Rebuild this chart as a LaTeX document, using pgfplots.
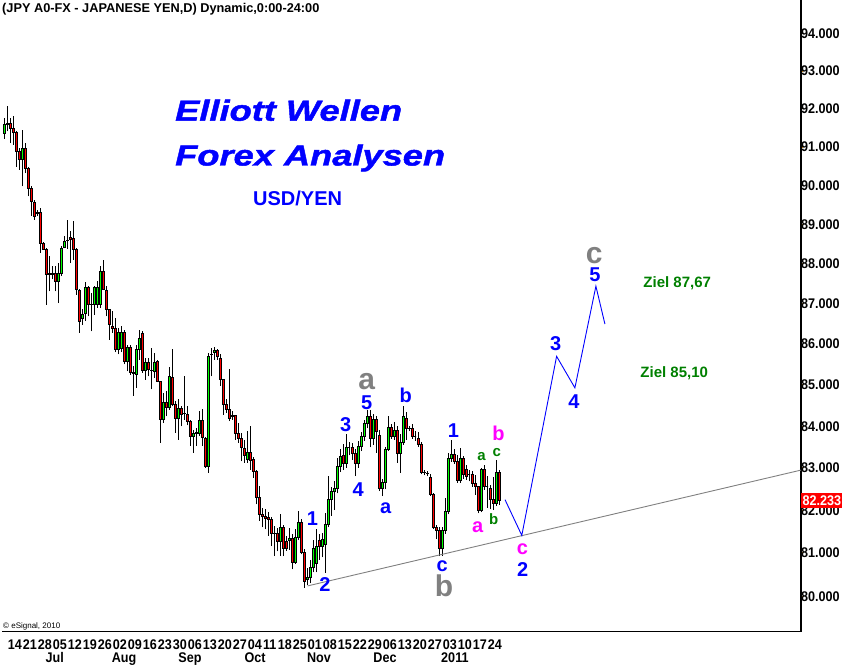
\documentclass[border=0pt]{standalone}
\usepackage{fontspec}
\setmainfont{Liberation Sans}
\newfontfamily\titlefont[FakeStretch=1.25,FakeBold=1.5]{Liberation Sans}
\newfontfamily\tickfont[FakeStretch=0.9]{Liberation Sans}
\usepackage{pgfplots}
\usepackage{pgfplotstable}
\pgfplotsset{compat=1.18}

\definecolor{cgreen}{RGB}{0,255,0}
\definecolor{cred}{RGB}{255,0,0}
\definecolor{wblue}{RGB}{0,0,255}
\definecolor{wgray}{RGB}{128,128,128}
\definecolor{wmag}{RGB}{255,0,255}
\definecolor{wgreen}{RGB}{0,128,0}
\definecolor{tickorange}{RGB}{230,140,0}

% daily OHLC, USD/JPY, index 0 = 9 Jun 2010 (one step = one trading day)
\pgfplotstableread{
i o h l c
0 91.36 91.76 91.21 91.60
1 91.60 92.08 91.41 91.62
2 91.61 91.76 91.10 91.50
3 91.48 91.80 91.06 91.39
4 91.38 91.41 90.49 90.88
5 90.88 90.97 90.41 90.67
6 90.67 91.44 89.98 90.97
7 90.97 91.10 90.32 90.45
8 90.45 90.49 89.72 89.94
9 89.94 89.98 89.21 89.60
10 89.58 89.64 89.12 89.21
11 89.31 89.38 89.21 89.28
12 89.32 89.42 88.28 88.53
13 88.51 88.55 88.36 88.38
14 88.36 88.40 86.98 87.75
15 87.76 88.21 87.31 87.75
16 87.76 87.96 87.61 87.75
17 87.76 87.96 87.31 87.56
18 87.56 88.02 87.02 87.76
19 87.76 88.44 87.69 88.40
20 88.42 88.70 88.40 88.56
21 88.60 89.12 88.38 88.61
22 88.67 88.83 88.02 88.63
23 88.65 89.10 88.11 88.38
24 88.38 88.40 87.23 87.37
25 87.35 87.37 86.28 86.57
26 86.65 86.86 86.48 86.75
27 86.77 87.54 86.57 87.40
28 87.40 87.44 86.69 86.98
29 86.99 87.27 86.31 87.00
30 87.00 87.44 86.73 87.40
31 86.98 87.56 86.90 87.42
32 86.98 87.94 86.90 87.81
33 87.81 88.09 87.35 87.37
34 87.35 87.44 86.69 86.87
35 86.86 86.88 86.11 86.48
36 86.44 86.82 86.28 86.40
37 86.40 86.65 85.80 85.87
38 85.87 86.40 85.75 86.30
39 85.90 86.45 85.80 86.30
40 86.30 86.35 85.50 85.58
41 85.58 85.99 85.33 85.91
42 85.91 85.99 85.25 85.31
43 85.30 85.46 84.73 85.28
44 85.27 85.99 84.93 85.87
45 85.88 86.36 85.62 86.14
46 86.26 86.32 85.30 85.35
47 85.35 85.66 85.13 85.56
48 85.56 85.66 85.21 85.38
49 85.36 85.91 84.89 85.35
50 85.34 85.78 85.17 85.54
51 85.59 85.62 85.07 85.09
52 85.08 85.10 83.60 84.16
53 84.16 84.81 84.08 84.57
54 84.57 84.85 84.24 84.46
55 84.46 85.44 84.40 85.20
56 85.18 85.88 84.48 84.52
57 84.52 84.61 83.84 84.18
58 84.18 84.65 83.68 84.44
59 84.44 84.48 84.00 84.30
60 84.32 85.21 84.16 84.31
61 84.28 84.48 84.02 84.12
62 84.11 84.16 83.52 83.76
63 83.76 83.90 83.36 83.84
64 83.85 83.96 83.52 83.84
65 83.84 84.36 83.76 84.15
66 84.15 84.42 83.52 83.74
67 83.72 83.74 83.00 83.04
68 83.04 85.78 82.89 85.71
69 85.74 85.91 85.21 85.75
70 85.81 85.92 85.62 85.84
71 85.84 85.88 85.62 85.69
72 85.66 85.76 84.97 85.15
73 85.13 85.15 84.28 84.52
74 84.52 84.65 84.32 84.40
75 84.40 85.38 84.12 84.20
76 84.25 84.36 84.16 84.26
77 84.26 84.28 83.68 83.84
78 83.82 84.08 83.60 83.72
79 83.70 83.84 83.16 83.50
80 83.48 83.66 83.12 83.31
81 83.20 83.88 83.12 83.38
82 83.38 84.00 82.96 83.18
83 83.20 83.25 82.77 82.92
84 82.92 82.95 82.14 82.31
85 82.30 82.57 81.75 81.90
86 81.90 82.05 81.60 81.86
87 81.86 82.02 81.55 81.82
88 81.84 81.95 81.40 81.80
89 81.80 81.85 81.16 81.47
90 81.47 81.62 80.93 81.45
91 81.45 81.58 81.04 81.28
92 81.28 81.90 80.93 81.59
93 81.59 81.66 80.93 81.12
94 81.28 81.39 81.05 81.12
95 81.30 81.58 81.08 81.34
96 81.34 81.45 80.62 80.79
97 80.79 81.55 80.74 81.36
98 81.36 81.98 81.30 81.71
99 81.71 81.80 80.97 81.02
100 81.02 81.10 80.20 80.34
101 80.40 80.66 80.25 80.45
102 80.45 80.85 80.30 80.66
103 80.66 81.30 80.55 81.12
104 80.75 81.55 80.55 81.15
105 81.30 81.45 80.85 81.15
106 81.16 81.47 80.90 81.32
107 81.20 81.94 80.54 81.67
108 81.67 82.80 81.60 82.26
109 82.26 82.55 81.87 82.45
110 82.45 82.70 82.00 82.53
111 82.53 83.24 82.40 83.04
112 83.04 83.44 82.90 83.28
113 83.30 83.56 82.95 83.12
114 83.12 83.80 83.00 83.50
115 83.50 83.62 83.30 83.50
116 83.50 83.60 83.20 83.35
117 83.35 83.45 82.81 83.12
118 83.12 83.65 83.00 83.52
119 83.52 83.85 83.40 83.76
120 83.76 84.16 83.65 84.07
121 84.07 84.40 83.95 84.23
122 84.23 84.40 83.49 83.70
123 83.70 84.30 83.55 84.16
124 84.16 84.25 83.36 83.88
125 83.79 83.90 82.45 82.53
126 82.53 82.75 82.33 82.66
127 82.66 83.50 82.50 83.45
128 83.45 84.24 83.40 83.98
129 83.98 84.05 83.70 83.76
130 83.76 84.10 83.68 83.90
131 83.90 84.00 83.12 83.36
132 83.36 83.80 82.89 83.62
133 83.62 84.48 83.55 84.23
134 84.20 84.35 83.68 83.96
135 83.96 84.00 83.88 83.94
136 83.96 84.05 83.70 83.76
137 83.76 83.88 83.65 83.76
138 83.72 83.85 83.50 83.56
139 83.56 83.62 82.85 82.90
140 82.90 82.95 82.82 82.89
141 82.88 82.92 82.80 82.87
142 82.79 82.85 82.33 82.37
143 82.37 82.40 81.55 81.59
144 81.59 81.65 81.32 81.54
145 81.53 81.60 80.93 81.12
146 81.12 81.60 80.93 81.53
147 81.53 82.29 81.45 81.98
148 81.98 83.36 81.90 83.22
149 83.22 83.68 83.15 83.32
150 83.32 83.44 83.10 83.15
151 83.15 83.30 82.65 82.70
152 82.70 83.48 82.65 83.22
153 83.22 83.28 82.75 82.84
154 82.96 83.08 82.72 82.81
155 82.84 82.96 82.68 82.84
156 82.84 82.92 82.55 82.64
157 82.64 82.84 82.36 82.56
158 82.56 82.58 81.93 81.99
159 81.99 83.00 81.95 82.98
160 82.98 83.08 82.48 82.56
161 82.56 82.80 82.06 82.56
162 82.52 82.60 82.02 82.25
163 82.25 82.78 82.00 82.17
164 82.17 83.20 82.10 82.89
165 82.89 82.95 82.13 82.233
}\ohlc

\tikzset{
  wb/.style={text=wblue, font=\bfseries\fontsize{20}{20}\selectfont, inner sep=0pt},
  wg/.style={text=wgray, font=\bfseries\fontsize{30}{30}\selectfont, inner sep=0pt},
  wm/.style={text=wmag, font=\bfseries\fontsize{20}{20}\selectfont, inner sep=0pt},
  wsg/.style={text=wgreen, font=\bfseries\fontsize{15}{15}\selectfont, inner sep=0pt},
}

\begin{document}
\begin{tikzpicture}[x=1pt,y=1pt]
\begin{axis}[
  at={(0,0)}, anchor=south west,
  scale only axis, width=799pt, height=632pt,
  xmin=-0.67, xmax=265.67,
  ymode=log, ymin=79.20, ymax=94.92,
  clip=false,
  axis x line*=bottom, axis y line*=right,
  axis line style={black, line width=1.2pt},
  ytick={80,81,82,83,84,85,86,87,88,89,90,91,92,93,94},
  yticklabels={80.000,81.000,82.000,83.000,84.000,85.000,86.000,87.000,88.000,89.000,90.000,91.000,92.000,93.000,94.000},
  yticklabel style={font=\tickfont\bfseries\fontsize{14}{14}\selectfont, anchor=west, inner sep=0pt, xshift=-2pt},
  ytick style={tickorange, line width=1.2pt},
  major tick length=2pt,
  tick align=outside,
  xtick={3.6,8.6,13.6,18.6,23.6,28.6,33.6,38.6,43.6,48.6,53.6,58.6,63.6,68.6,73.6,78.6,83.6,88.6,93.6,98.6,103.6,108.6,113.6,118.6,123.6,128.6,133.6,138.6,143.6,148.6,153.6,158.6,163.6},
  xticklabels={14,21,28,05,12,19,26,02,09,16,23,30,06,13,20,27,04,11,18,25,01,08,15,22,29,06,13,20,27,03,10,17,24},
  xtick style={draw=none},
  xticklabel style={font=\tickfont\bfseries\fontsize{14}{14}\selectfont, anchor=base, inner sep=0pt, yshift=-15.3pt},
  extra x ticks={16.9,40,62,83.7,105,127,150.3},
  extra x tick labels={Jul,Aug,Sep,Oct,Nov,Dec,2011},
  extra x tick style={tick style={draw=none}, xticklabel style={yshift=-13.2pt}},
]
% candles
\pgfplotsinvokeforeach{0,...,165}{
  \pgfplotstablegetelem{#1}{o}\of{\ohlc}\edef\vO{\pgfplotsretval}
  \pgfplotstablegetelem{#1}{h}\of{\ohlc}\edef\vH{\pgfplotsretval}
  \pgfplotstablegetelem{#1}{l}\of{\ohlc}\edef\vL{\pgfplotsretval}
  \pgfplotstablegetelem{#1}{c}\of{\ohlc}\edef\vC{\pgfplotsretval}
  \pgfplotstablegetelem{#1}{i}\of{\ohlc}\edef\vI{\pgfplotsretval}
  \ifdim\vC pt<\vO pt \def\vCol{cred}\else\def\vCol{cgreen}\fi
  \pgfmathsetmacro\xa{\vI-0.4}\pgfmathsetmacro\xb{\vI+0.4}
  \edef\doplot{%
    \noexpand\addplot[black, line width=0.9pt, forget plot] coordinates {(\vI,\vL) (\vI,\vH)};
    \noexpand\addplot[draw=black, line width=0.6pt, fill=\vCol, forget plot] coordinates {(\xa,\vO) (\xb,\vO) (\xb,\vC) (\xa,\vC)} -- cycle;
  }\doplot
}
% trend line
\addplot[wgray, line width=0.9pt, forget plot] coordinates {(101.2,80.24) (265.67,82.95)};
% projected path
\addplot[wblue, line width=0.9pt, forget plot] coordinates {(167,82.25) (172.6,81.41) (184.2,85.70) (190.3,84.93) (197.3,87.44) (200.3,86.50)};

% wave labels
\node[wb] at (axis cs:102.8,81.80) {1};
\node[wb] at (axis cs:107,80.28) {2};
\node[wb] at (axis cs:113.9,84.04) {3};
\node[wb] at (axis cs:118.1,82.49) {4};
\node[wb] at (axis cs:120.9,84.58) {5};
\node[wg] at (axis cs:120.9,85.09) {a};
\node[wb] at (axis cs:127.2,82.06) {a};
\node[wb] at (axis cs:133.9,84.75) {b};
\node[wb] at (axis cs:146.1,80.70) {c};
\node[wg] at (axis cs:146.7,80.25) {b};
\node[wb] at (axis cs:149.8,83.90) {1};
\node[wm] at (axis cs:157.9,81.60) {a};
\node[wsg] at (axis cs:159.2,83.28) {a};
\node[wsg] at (axis cs:163.2,81.78) {b};
\node[wsg] at (axis cs:164.3,83.38) {c};
\node[wm] at (axis cs:164.8,83.82) {b};
\node[wm] at (axis cs:172.8,81.08) {c};
\node[wb] at (axis cs:172.9,80.62) {2};
\node[wb] at (axis cs:183.9,86.01) {3};
\node[wb] at (axis cs:190,84.60) {4};
\node[wg] at (axis cs:196.7,88.21) {c};
\node[wb] at (axis cs:197,87.73) {5};
\node[text=wgreen, font=\bfseries\fontsize{15}{15}\selectfont] at (axis cs:224.4,87.52) {Ziel 87,67};
\node[text=wgreen, font=\bfseries\fontsize{15}{15}\selectfont] at (axis cs:223.4,85.29) {Ziel 85,10};

\coordinate (lastp) at (axis cs:265.67,82.233);
\draw[wgray!80, line width=1.5pt, xshift=-3pt] (rel axis cs:0,0) -- (rel axis cs:0,1);
\end{axis}

\node[anchor=west, fill=cred, text=white, inner xsep=1.5pt, inner ysep=0pt, minimum height=15pt, font=\tickfont\bfseries\fontsize{14}{14}\selectfont] at (lastp) {82.233};

\node[anchor=base west, inner sep=0pt, font=\bfseries\fontsize{12.75}{12.75}\selectfont] at (0,619.5) {(JPY A0-FX - JAPANESE YEN,D) Dynamic,0:00-24:00};
\node[anchor=base west, inner sep=0pt, text=wblue, font=\titlefont\bfseries\itshape\fontsize{29}{29}\selectfont] at (173,511.3) {Elliott Wellen};
\node[anchor=base west, inner sep=0pt, text=wblue, font=\titlefont\bfseries\itshape\fontsize{29}{29}\selectfont] at (173,466.5) {Forex Analysen};
\node[anchor=base west, inner sep=0pt, text=wblue, font=\bfseries\fontsize{20}{20}\selectfont] at (251,426) {USD/YEN};
\node[anchor=base west, inner sep=0pt, font=\fontsize{8}{8}\selectfont] at (1,3.5) {\textcopyright{} eSignal, 2010};

\pgfresetboundingbox
\path[use as bounding box] (-2,-32) rectangle (840,632);
\end{tikzpicture}
\end{document}
